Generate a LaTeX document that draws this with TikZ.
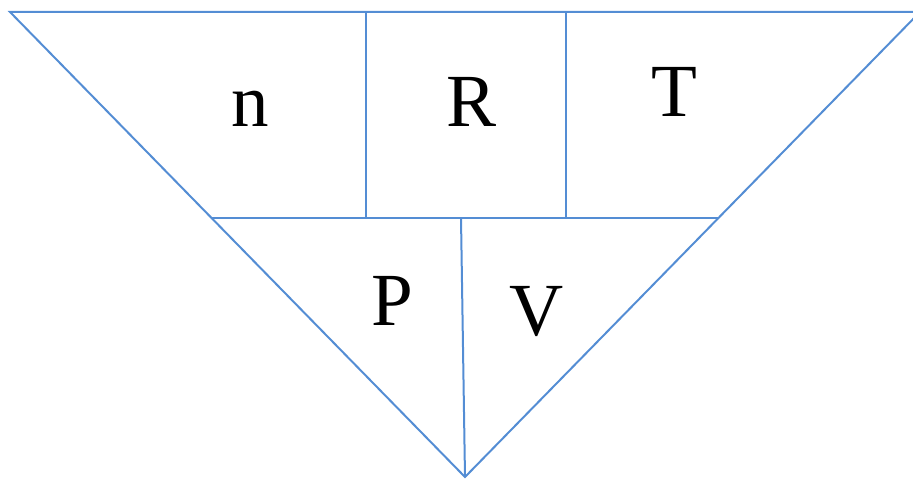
\documentclass[tikz,border=0pt]{standalone}
\usepackage{fontspec}
\setmainfont{Liberation Serif}
\definecolor{lineblue}{RGB}{84,141,212}
\tikzset{
  frame/.style={draw=lineblue, line width=2pt, line join=miter},
  lbl/.style={anchor=base, inner sep=0pt, font=\rmfamily\fontsize{75}{80}\selectfont}
}
\begin{document}
\begin{tikzpicture}[x=1pt,y=-1pt]
\useasboundingbox (0,0) rectangle (913,481);
\clip (0,0) rectangle (913,481);
\coordinate (tl) at (10,12);
\coordinate (tr) at (920,12);
\coordinate (ap) at (465,477);
\coordinate (ml) at (211.6,218);
\coordinate (mr) at (718.4,218);
\coordinate (v1t) at (366,12);
\coordinate (v1b) at (366,218);
\coordinate (v2t) at (566,12);
\coordinate (v2b) at (566,218);
\coordinate (st) at (461,218);
\draw[frame] (tl) -- (tr) -- (ap) -- cycle;
\draw[frame] (ml) -- (mr);
\draw[frame] (v1t) -- (v1b);
\draw[frame] (v2t) -- (v2b);
\draw[frame] (st) -- (ap);
\node[lbl] (n) at (250,127) {n};
\node[lbl] (R) at (472,127) {R};
\node[lbl] (T) at (674,117) {T};
\node[lbl] (P) at (392,325) {P};
\node[lbl] (V) at (537,335) {V};
\end{tikzpicture}
\end{document}
